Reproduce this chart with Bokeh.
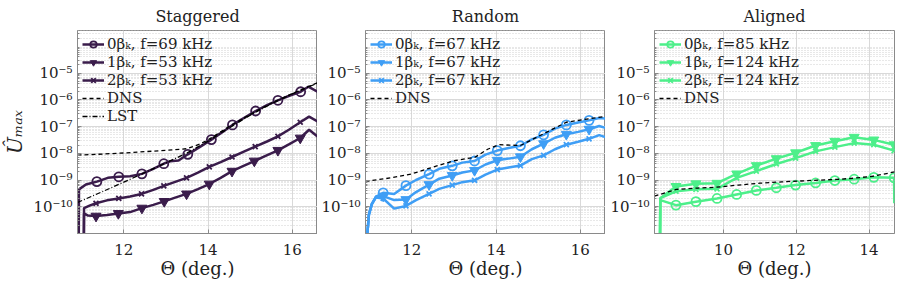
import numpy as np
from bokeh.plotting import figure
from bokeh.models import Range1d, FixedTicker, CustomJSTickFormatter, Legend, LegendItem
from bokeh.layouts import row
from bokeh.embed import file_html
from bokeh.resources import INLINE

FONT = "DejaVu Serif"
C_STAG = "#3a1c4b"
C_RAND = "#3f9ef5"
C_ALIG = "#4def8a"

# ---------------- data (log10 of U_max) ----------------
# Staggered
stag_0b_x = [10.93, 10.935, 11.1, 11.36, 11.62, 11.88, 12.15, 12.43, 12.7, 12.95, 13.1, 13.3, 13.52, 13.8,
             14.08, 14.33, 14.58, 14.85, 15.13, 15.4, 15.66, 15.93, 16.2, 16.38, 16.6]
stag_0b_y = [-11.5, -9.35, -9.17, -9.06, -8.92, -8.88, -8.86, -8.77, -8.58, -8.39, -8.30, -8.27, -8.04, -7.77,
             -7.49, -7.22, -6.94, -6.68, -6.42, -6.20, -6.02, -5.85, -5.70, -5.51, -5.70]
stag_0b_mx = [11.36, 11.88, 12.43, 12.95, 13.52, 14.08, 14.58, 15.13, 15.66, 16.2]
stag_0b_my = [-9.06, -8.88, -8.77, -8.39, -8.04, -7.49, -6.94, -6.42, -6.02, -5.70]

stag_1b_x = [11.05, 11.055, 11.15, 11.34, 11.6, 11.87, 12.15, 12.43, 12.7, 12.96, 13.22, 13.49, 13.76, 14.03,
             14.3, 14.57, 14.83, 15.10, 15.38, 15.66, 15.92, 16.19, 16.4, 16.6]
stag_1b_y = [-11.5, -10.25, -10.33, -10.35, -10.31, -10.25, -10.20, -10.05, -9.93, -9.80, -9.66, -9.52, -9.34, -9.15,
             -8.92, -8.67, -8.48, -8.29, -8.09, -7.89, -7.67, -7.43, -7.12, -7.37]
stag_1b_mx = [11.34, 11.87, 12.43, 12.96, 13.49, 14.03, 14.57, 15.10, 15.66, 16.19]
stag_1b_my = [-10.35, -10.25, -10.05, -9.80, -9.52, -9.15, -8.67, -8.29, -7.89, -7.43]

stag_2b_x = [11.05, 11.055, 11.2, 11.34, 11.6, 11.88, 12.15, 12.42, 12.7, 12.95, 13.22, 13.49, 13.76, 14.03,
             14.3, 14.57, 14.85, 15.12, 15.4, 15.66, 15.92, 16.19, 16.4, 16.6]
stag_2b_y = [-11.5, -10.05, -9.95, -9.87, -9.76, -9.69, -9.62, -9.52, -9.37, -9.22, -9.07, -8.92, -8.72, -8.51,
             -8.33, -8.14, -7.94, -7.75, -7.56, -7.37, -7.12, -6.84, -6.63, -6.81]
stag_2b_mx = [11.34, 11.88, 12.42, 12.95, 13.49, 14.03, 14.57, 15.12, 15.66, 16.19]
stag_2b_my = [-9.87, -9.69, -9.52, -9.22, -8.92, -8.51, -8.14, -7.75, -7.37, -6.84]

stag_dns_x = [10.9, 11.5, 12.0, 12.5, 13.0, 13.5, 13.8, 14.0, 14.5, 15.0, 15.5, 16.0, 16.6]
stag_dns_y = [-8.07, -8.03, -7.99, -7.94, -7.89, -7.83, -7.66, -7.50, -7.00, -6.55, -6.13, -5.77, -5.36]
stag_lst_x = [10.9, 11.5, 12.0, 12.5, 13.0, 13.5, 14.0, 14.5, 15.0, 15.5, 16.0, 16.6]
stag_lst_y = [-9.84, -9.43, -9.08, -8.72, -8.36, -7.99, -7.55, -7.05, -6.58, -6.15, -5.78, -5.38]

# Random
rand_mx = [11.32, 11.86, 12.41, 12.96, 13.49, 14.03, 14.58, 15.13, 15.67, 16.21]
rand_0b_my = [-9.48, -9.21, -8.78, -8.47, -8.29, -7.90, -7.72, -7.31, -6.94, -6.77]
rand_1b_my = [-9.60, -9.73, -9.17, -8.83, -8.64, -8.26, -8.13, -7.64, -7.29, -7.10]
rand_2b_my = [-9.69, -9.97, -9.52, -9.19, -9.01, -8.61, -8.46, -8.08, -7.68, -7.46]

rand_x = [10.92, 10.98, 11.05, 11.15, 11.32, 11.58, 11.86, 12.1, 12.41, 12.65, 12.96, 13.2, 13.49, 13.75,
          14.03, 14.3, 14.58, 14.85, 15.13, 15.4, 15.67, 15.95, 16.21, 16.45, 16.6]
rand_0b_y = [-11.5, -10.3, -9.9, -9.62, -9.48, -9.52, -9.21, -9.00, -8.78, -8.58, -8.47, -8.35, -8.29, -8.05,
             -7.90, -7.80, -7.72, -7.48, -7.31, -7.08, -6.94, -6.85, -6.77, -6.68, -6.70]
rand_1b_y = [-11.5, -10.3, -9.9, -9.62, -9.60, -9.75, -9.73, -9.45, -9.17, -8.95, -8.83, -8.72, -8.64, -8.42,
             -8.26, -8.20, -8.13, -7.85, -7.64, -7.42, -7.29, -7.20, -7.10, -6.98, -7.05]
rand_2b_y = [-11.5, -10.3, -9.9, -9.65, -9.69, -10.07, -9.97, -9.75, -9.52, -9.33, -9.19, -9.08, -9.01, -8.80,
             -8.61, -8.53, -8.46, -8.22, -8.08, -7.85, -7.68, -7.57, -7.46, -7.32, -7.40]
rand_dns_x = [10.9, 11.5, 12.0, 12.5, 13.0, 13.5, 13.8, 14.07, 14.58, 15.13, 15.67, 16.21, 16.6]
rand_dns_y = [-9.05, -8.92, -8.77, -8.52, -8.28, -8.15, -7.85, -7.68, -7.71, -7.27, -6.84, -6.71, -6.62]

# Aligned
alig_mx = [8.69, 9.24, 9.82, 10.36, 10.9, 11.45, 11.98, 12.53, 13.06, 13.59, 14.13, 14.69]
alig_0b_my = [-9.94, -9.81, -9.69, -9.54, -9.39, -9.29, -9.19, -9.11, -9.02, -8.97, -8.90, -8.92]
alig_1b_my = [-9.24, -9.14, -9.12, -8.77, -8.46, -8.20, -7.98, -7.71, -7.55, -7.40, -7.50, -7.68]
alig_2b_my = [-9.42, -9.35, -9.33, -8.92, -8.67, -8.40, -8.18, -7.93, -7.77, -7.62, -7.68, -7.90]
alig_start_x = [8.25, 8.26]
alig_0b_start = [-11.5, -9.75]
alig_1b_start = [-11.5, -9.68]
alig_2b_start = [-11.5, -9.68]
alig_0b_end_x = [14.695]
alig_0b_end_y = [-9.87]
alig_dns_x = [8.1, 8.7, 9.3, 9.8, 10.4, 11.0, 11.6, 12.5, 13.1, 13.6, 14.1, 14.7]
alig_dns_y = [-9.60, -9.35, -9.30, -9.27, -9.19, -9.12, -9.07, -9.01, -8.98, -8.93, -8.86, -8.70]

y_tick_exps = [-10, -9, -8, -7, -6, -5]

YMIN, YMAX = 1e-11, 10 ** -3.41


def P(v):
    return np.power(10.0, np.array(v, dtype=float))


def make_fig(title, xr, xticks, min_left, min_right, ylabel=None):
    p = figure(frame_width=240, frame_height=203, y_axis_type="log",
               x_range=Range1d(*xr), y_range=Range1d(YMIN, YMAX),
               output_backend="svg", toolbar_location=None,
               min_border_left=min_left, min_border_right=min_right,
               min_border_top=29, min_border_bottom=44)
    p.title.text = title
    p.title.align = "center"
    p.title.text_font = FONT
    p.title.text_font_size = "16px"
    p.title.text_font_style = "normal"
    p.title.text_color = "#222222"
    p.title.standoff = 9
    p.outline_line_color = "#8a8a8a"
    p.outline_line_width = 1
    p.background_fill_color = "white"
    p.border_fill_color = "white"

    minor = []
    for e in range(-11, -3):
        for m in range(2, 10):
            minor.append(m * 10.0 ** e)
    p.yaxis.ticker = FixedTicker(ticks=[10.0 ** e for e in y_tick_exps], minor_ticks=minor)
    p.yaxis.formatter = CustomJSTickFormatter(code="""
        const sup = {"-":"\u207b","0":"\u2070","1":"\u00b9","2":"\u00b2","3":"\u00b3","4":"\u2074",
                     "5":"\u2075","6":"\u2076","7":"\u2077","8":"\u2078","9":"\u2079"};
        const e = Math.round(Math.log10(tick));
        return "10" + String(e).split("").map(c => sup[c]).join("");
    """)
    p.xaxis.ticker = FixedTicker(ticks=xticks)
    for ax in (p.xaxis, p.yaxis):
        ax.axis_line_color = "#8a8a8a"
        ax.major_tick_line_color = "#8a8a8a"
        ax.minor_tick_line_color = "#8a8a8a"
        ax.major_tick_in = 4
        ax.major_tick_out = 0
        ax.minor_tick_in = 2
        ax.minor_tick_out = 0
        ax.major_label_text_font = FONT
        ax.major_label_text_font_size = "15px"
        ax.major_label_text_color = "#222222"
        ax.axis_label_text_font = FONT
        ax.axis_label_text_font_size = "18px"
        ax.axis_label_text_font_style = "normal"
        ax.axis_label_text_color = "#222222"
    p.xaxis.major_label_standoff = 10
    p.yaxis.major_label_standoff = 5
    p.xaxis.axis_label = "\u0398 (deg.)"
    p.xaxis.axis_label_standoff = 0
    if ylabel:
        p.yaxis.axis_label = ylabel
        p.yaxis.axis_label_text_font_style = "italic"
        p.yaxis.axis_label_text_font_size = "20px"
        p.yaxis.axis_label_standoff = 3

    for g in (p.xgrid, p.ygrid):
        g.grid_line_color = "#d9d9d9"
        g.grid_line_width = 1
    p.ygrid.minor_grid_line_color = "#d0d0d0"
    p.ygrid.minor_grid_line_dash = "1 2"
    p.ygrid.minor_grid_line_width = 1
    return p


def series(p, lx, ly, mx, my, color, marker):
    l = p.line(lx, P(ly), line_color=color, line_width=2.5)
    if marker == "circle":
        s = p.scatter(mx, P(my), marker="circle", size=9, line_color=color, line_width=1.8,
                      fill_alpha=0)
    elif marker == "tri":
        s = p.scatter(mx, P(my), marker="inverted_triangle", size=10, line_color=color,
                      fill_color=color, line_width=1)
    else:
        s = p.scatter(mx, P(my), marker="x", size=7, line_color=color, line_width=1.8)
    return [l, s]


def add_legend(p, items):
    leg = Legend(items=[LegendItem(label=t, renderers=r) for t, r in items], location="top_left")
    leg.label_text_font = FONT
    leg.label_text_font_size = "15px"
    leg.label_text_line_height = 1.0
    leg.label_text_color = "#222222"
    leg.label_height = 16
    leg.glyph_height = 16
    leg.glyph_width = 22
    leg.label_standoff = 3
    leg.spacing = 0
    leg.padding = 5
    leg.margin = 0
    leg.background_fill_alpha = 0
    leg.border_line_alpha = 0
    p.add_layout(leg)


# ---------------- Staggered ----------------
p1 = make_fig("Staggered", (10.9, 16.6), [12, 14, 16], 67, 0, "\u00db\u2098\u2090\u2093")
r0 = series(p1, stag_0b_x, stag_0b_y, stag_0b_mx, stag_0b_my, C_STAG, "circle")
r1 = series(p1, stag_1b_x, stag_1b_y, stag_1b_mx, stag_1b_my, C_STAG, "tri")
r2 = series(p1, stag_2b_x, stag_2b_y, stag_2b_mx, stag_2b_my, C_STAG, "x")
d1 = p1.line(stag_dns_x, P(stag_dns_y), line_color="black", line_width=1.3, line_dash="4 3")
l1 = p1.line(stag_lst_x, P(stag_lst_y), line_color="black", line_width=1.3, line_dash="5 2 1 2")
add_legend(p1, [("0\u03b2\u2096, f=69 kHz", r0), ("1\u03b2\u2096, f=53 kHz", r1),
                ("2\u03b2\u2096, f=53 kHz", r2), ("DNS", [d1]), ("LST", [l1])])

# ---------------- Random ----------------
p2 = make_fig("Random", (10.9, 16.6), [12, 14, 16], 48, 0)
q0 = series(p2, rand_x, rand_0b_y, rand_mx, rand_0b_my, C_RAND, "circle")
q1 = series(p2, rand_x, rand_1b_y, rand_mx, rand_1b_my, C_RAND, "tri")
q2 = series(p2, rand_x, rand_2b_y, rand_mx, rand_2b_my, C_RAND, "x")
d2 = p2.line(rand_dns_x, P(rand_dns_y), line_color="black", line_width=1.3, line_dash="4 3")
add_legend(p2, [("0\u03b2\u2096, f=67 kHz", q0), ("1\u03b2\u2096, f=67 kHz", q1),
                ("2\u03b2\u2096, f=67 kHz", q2), ("DNS", [d2])])

# ---------------- Aligned ----------------
p3 = make_fig("Aligned", (8.1, 14.7), [10, 12, 14], 49, 3)
a0 = series(p3, alig_start_x + alig_mx + alig_0b_end_x, alig_0b_start + alig_0b_my + alig_0b_end_y,
            alig_mx, alig_0b_my, C_ALIG, "circle")
a1 = series(p3, alig_start_x + alig_mx, alig_1b_start + alig_1b_my, alig_mx, alig_1b_my, C_ALIG, "tri")
a2 = series(p3, alig_start_x + alig_mx, alig_2b_start + alig_2b_my, alig_mx, alig_2b_my, C_ALIG, "x")
d3 = p3.line(alig_dns_x, P(alig_dns_y), line_color="black", line_width=1.3, line_dash="4 3")
add_legend(p3, [("0\u03b2\u2096, f=85 kHz", a0), ("1\u03b2\u2096, f=124 kHz", a1),
                ("2\u03b2\u2096, f=124 kHz", a2), ("DNS", [d3])])

layout = row(p1, p2, p3)
open("out.html", "w").write(file_html(layout, INLINE))
